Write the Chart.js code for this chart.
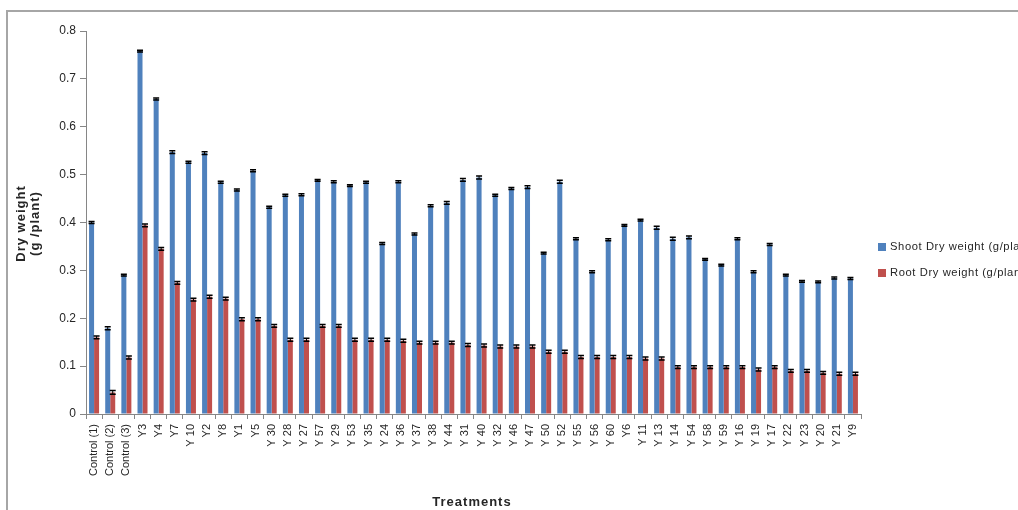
<!DOCTYPE html>
<html>
<head>
<meta charset="utf-8">
<script src="https://cdn.jsdelivr.net/npm/chart.js@4.4.1/dist/chart.umd.min.js"></script>
<style>
  html, body { margin: 0; padding: 0; background: #ffffff; }
  #wrap { width: 1018px; height: 510px; position: relative; }
</style>
</head>
<body>
<div id="wrap"><canvas id="c" width="1018" height="510"></canvas></div>
<script>
// Treatments in plotted order
const categories = [
  'Control (1)', 'Control (2)', 'Control (3)', 'Y3', 'Y4', 'Y7', 'Y 10', 'Y2', 'Y8', 'Y1', 'Y5',
  'Y 30', 'Y 28', 'Y 27', 'Y 57', 'Y 29', 'Y 53', 'Y 35', 'Y 24', 'Y 36', 'Y 37', 'Y 38',
  'Y 44', 'Y 31', 'Y 40', 'Y 32', 'Y 46', 'Y 47', 'Y 50', 'Y 52', 'Y 55', 'Y 56', 'Y 60',
  'Y6', 'Y 11', 'Y 13', 'Y 14', 'Y 54', 'Y 58', 'Y 59', 'Y 16', 'Y 19', 'Y 17', 'Y 22',
  'Y 23', 'Y 20', 'Y 21', 'Y9'
];

// Shoot dry weight (g/plant)
const shootDry = [
  0.400, 0.179, 0.290, 0.758, 0.658, 0.547, 0.526, 0.545, 0.484, 0.468, 0.508,
  0.432, 0.457, 0.458, 0.488, 0.485, 0.477, 0.484, 0.356, 0.485, 0.376, 0.435,
  0.441, 0.489, 0.494, 0.457, 0.471, 0.474, 0.336, 0.485, 0.366, 0.297, 0.364,
  0.394, 0.405, 0.389, 0.366, 0.369, 0.323, 0.311, 0.366, 0.297, 0.354, 0.290,
  0.277, 0.276, 0.284, 0.283
];

// Root dry weight (g/plant)
const rootDry = [
  0.160, 0.045, 0.118, 0.394, 0.345, 0.274, 0.239, 0.245, 0.241, 0.198, 0.198,
  0.184, 0.155, 0.155, 0.184, 0.184, 0.155, 0.155, 0.155, 0.153, 0.149, 0.149,
  0.149, 0.144, 0.143, 0.141, 0.141, 0.141, 0.130, 0.130, 0.119, 0.119, 0.119,
  0.119, 0.116, 0.116, 0.098, 0.098, 0.098, 0.098, 0.098, 0.093, 0.098, 0.090,
  0.090, 0.086, 0.084, 0.084
];

// Standard errors
const shootErr = [
  0.002, 0.003, 0.002, 0.002, 0.002, 0.003, 0.002, 0.003, 0.002, 0.002, 0.002,
  0.002, 0.002, 0.002, 0.002, 0.002, 0.002, 0.002, 0.002, 0.002, 0.002, 0.002,
  0.003, 0.003, 0.003, 0.002, 0.002, 0.003, 0.002, 0.003, 0.002, 0.002, 0.002,
  0.002, 0.002, 0.003, 0.003, 0.003, 0.002, 0.002, 0.002, 0.002, 0.002, 0.002,
  0.002, 0.002, 0.002, 0.002
];
const rootErr = [
  0.003, 0.004, 0.003, 0.003, 0.003, 0.003, 0.003, 0.003, 0.003, 0.003, 0.003,
  0.003, 0.003, 0.003, 0.003, 0.003, 0.003, 0.003, 0.003, 0.003, 0.003, 0.003,
  0.003, 0.003, 0.003, 0.003, 0.003, 0.003, 0.003, 0.003, 0.003, 0.003, 0.003,
  0.003, 0.003, 0.003, 0.003, 0.003, 0.003, 0.003, 0.003, 0.003, 0.003, 0.003,
  0.003, 0.003, 0.003, 0.003
];

const seriesNames = ['Shoot Dry weight (g/plant)', 'Root Dry weight (g/plant)'];
const seriesColors = ['#4F81BD', '#C0504D'];
const yTickValues = [0, 0.1, 0.2, 0.3, 0.4, 0.5, 0.6, 0.7, 0.8];

const axisGrey = '#868686';
const textColor = '#262626';
const baseFont = 'Liberation Sans, Arial, sans-serif';

// Error bars with caps, placed through the chart's own scales
const errorBars = {
  id: 'errorBars',
  afterDatasetsDraw(chart) {
    const ctx = chart.ctx;
    const y = chart.scales.y;
    const errs = [shootErr, rootErr];
    ctx.save();
    ctx.strokeStyle = '#000000';
    chart.data.datasets.forEach((ds, di) => {
      const meta = chart.getDatasetMeta(di);
      meta.data.forEach((bar, i) => {
        const v = ds.data[i];
        const e = errs[di][i];
        const top = y.getPixelForValue(v + e);
        const bot = y.getPixelForValue(v - e);
        const x = bar.x;
        const half = 3;
        ctx.lineWidth = 1;
        ctx.beginPath();
        ctx.moveTo(x, top); ctx.lineTo(x, bot);
        ctx.stroke();
        ctx.lineWidth = 1.5;
        ctx.beginPath();
        ctx.moveTo(x - half, top); ctx.lineTo(x + half, top);
        ctx.moveTo(x - half, bot); ctx.lineTo(x + half, bot);
        ctx.stroke();
      });
    });
    ctx.restore();
  }
};

// Frame, axis titles and legend
const decorations = {
  id: 'decorations',
  beforeDraw(chart) {
    const ctx = chart.ctx;
    ctx.save();
    ctx.fillStyle = '#ffffff';
    ctx.fillRect(0, 0, chart.width, chart.height);
    ctx.strokeStyle = '#a6a6a6';
    ctx.lineWidth = 2;
    ctx.beginPath();
    ctx.moveTo(7, chart.height);
    ctx.lineTo(7, 11);
    ctx.lineTo(chart.width, 11);
    ctx.stroke();
    ctx.restore();
  },
  afterDraw(chart) {
    const ctx = chart.ctx;
    const area = chart.chartArea;
    ctx.save();
    ctx.fillStyle = textColor;
    ctx.font = 'bold 13px ' + baseFont;
    ctx.textAlign = 'center';
    ctx.textBaseline = 'middle';
    ctx.letterSpacing = '1px';

    // x-axis title
    ctx.fillText('Treatments', 472, 502);

    // y-axis title, two lines
    ctx.save();
    ctx.translate(28, (area.top + area.bottom) / 2 + 1);
    ctx.rotate(-Math.PI / 2);
    ctx.fillText('Dry weight', 0, -7);
    ctx.fillText('(g /plant)', 0, 7);
    ctx.restore();

    // legend
    ctx.letterSpacing = '0.6px';
    ctx.font = '11.2px ' + baseFont;
    ctx.textAlign = 'left';
    const legendY = [247, 273];
    seriesNames.forEach((name, i) => {
      ctx.fillStyle = seriesColors[i];
      ctx.fillRect(878, legendY[i] - 4, 8, 8);
      ctx.fillStyle = textColor;
      ctx.fillText(name, 890, legendY[i]);
    });
    ctx.restore();
  }
};

new Chart(document.getElementById('c'), {
  type: 'bar',
  data: {
    labels: categories,
    datasets: [
      { label: seriesNames[0], data: shootDry, backgroundColor: seriesColors[0] },
      { label: seriesNames[1], data: rootDry, backgroundColor: seriesColors[1] }
    ]
  },
  options: {
    responsive: false,
    animation: false,
    devicePixelRatio: 1,
    layout: { padding: { left: 0, top: 31, right: 157, bottom: 0 } },
    datasets: { bar: { categoryPercentage: 0.62, barPercentage: 1.0 } },
    plugins: { legend: { display: false }, tooltip: { enabled: false } },
    scales: {
      x: {
        grid: { offset: true, drawOnChartArea: false, drawTicks: true, tickLength: 5, color: axisGrey },
        border: { color: axisGrey, width: 1 },
        ticks: {
          autoSkip: false, minRotation: 90, maxRotation: 90, padding: 5,
          color: textColor, font: { family: baseFont, size: 11 }
        },
        afterFit(scale) { scale.height = 96; }
      },
      y: {
        min: 0, max: 0.8,
        afterBuildTicks(scale) { scale.ticks = yTickValues.map(v => ({ value: v })); },
        grid: { drawOnChartArea: false, drawTicks: true, tickLength: 6, color: axisGrey },
        border: { color: axisGrey, width: 1 },
        ticks: {
          padding: 4, color: textColor, font: { family: baseFont, size: 12 },
          callback: v => (v === 0 ? '0' : Number(v).toFixed(1))
        },
        afterFit(scale) { scale.width = 86; }
      }
    }
  },
  plugins: [decorations, errorBars]
});
</script>
</body>
</html>
